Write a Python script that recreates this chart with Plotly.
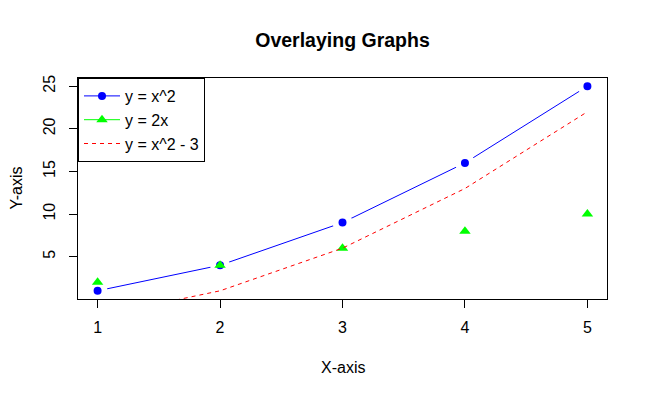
import plotly.graph_objects as go

x_vals = [1, 2, 3, 4, 5]
y_square = [1, 4, 9, 16, 25]
y_double = [2, 4, 6, 8, 10]
y_square_minus3 = [-2, 1, 6, 13, 22]
x_ticks = [1, 2, 3, 4, 5]
y_ticks = [5, 10, 15, 20, 25]
series_names = ["y = x^2", "y = 2x", "y = x^2 - 3"]

FONT = "Liberation Sans, Arial, sans-serif"
BLUE = "#0000FF"
GREEN = "#00FF00"
RED = "#FF0000"

# the page body has an 8px default margin, so the figure is drawn 8px in
W, H = 640, 389

fig = go.Figure()

# legend-only entries (R legend draws line through the symbol)
fig.add_trace(go.Scatter(x=[None], y=[None], mode="lines+markers", name=series_names[0],
                         line=dict(color=BLUE, width=1),
                         marker=dict(symbol="circle", size=8, color=BLUE)))
fig.add_trace(go.Scatter(x=[None], y=[None], mode="lines+markers", name=series_names[1],
                         line=dict(color=GREEN, width=1),
                         marker=dict(symbol="triangle-up", size=10, color=GREEN)))
fig.add_trace(go.Scatter(x=[None], y=[None], mode="lines", name=series_names[2],
                         line=dict(color=RED, width=1, dash="4px,4px")))

# y = x^2 (type "b": line with gaps around points, via white ring on markers)
fig.add_trace(go.Scatter(x=x_vals, y=y_square, mode="lines+markers", showlegend=False,
                         name=series_names[0],
                         line=dict(color=BLUE, width=1),
                         marker=dict(symbol="circle", size=14, color=BLUE,
                                     line=dict(color="white", width=6))))

# y = 2x points
fig.add_trace(go.Scatter(x=x_vals, y=y_double, mode="markers", showlegend=False,
                         name=series_names[1],
                         marker=dict(symbol="triangle-up", size=10, color=GREEN)))

# y = x^2 - 3 dashed
fig.add_trace(go.Scatter(x=x_vals, y=y_square_minus3, mode="lines", showlegend=False,
                         name=series_names[2],
                         line=dict(color=RED, width=1, dash="4px,4px")))

axis_common = dict(showline=True, linecolor="black", linewidth=1, mirror=True,
                   ticks="outside", ticklen=8, tickwidth=1, tickcolor="black",
                   showgrid=False, zeroline=False, automargin=False,
                   tickfont=dict(family=FONT, size=16, color="black"))

fig.update_layout(
    width=W, height=H,
    margin=dict(l=70, r=41, t=70, b=98),
    paper_bgcolor="white", plot_bgcolor="white",
    title=dict(text="<b>Overlaying Graphs</b>", x=(342.5 - 8) / W, xanchor="center",
               xref="container", y=1 - 32 / H, yanchor="middle", yref="container",
               font=dict(family=FONT, size=19.5, color="black"), automargin=False),
    xaxis=dict(range=[0.84, 5.16], tickvals=x_ticks, ticklabelstandoff=6, **axis_common),
    yaxis=dict(range=[0.04, 25.96], tickvals=y_ticks, tickangle=-90,
               ticklabelstandoff=8, **axis_common),
    legend=dict(x=0, y=1, xanchor="left", yanchor="top",
                bordercolor="black", borderwidth=1, bgcolor="white",
                font=dict(family=FONT, size=16, color="black"),
                tracegroupgap=0, itemwidth=36),
    showlegend=True,
    annotations=[
        dict(text="X-axis", xref="paper", yref="paper", x=0.5, y=0,
             xanchor="center", yanchor="middle", yshift=-68, showarrow=False,
             font=dict(family=FONT, size=16, color="black")),
        dict(text="Y-axis", xref="paper", yref="paper", x=0, y=0.5,
             xanchor="center", yanchor="middle", xshift=-62, textangle=-90,
             showarrow=False, font=dict(family=FONT, size=16, color="black")),
    ],
)

fig.write_html("out.html")
